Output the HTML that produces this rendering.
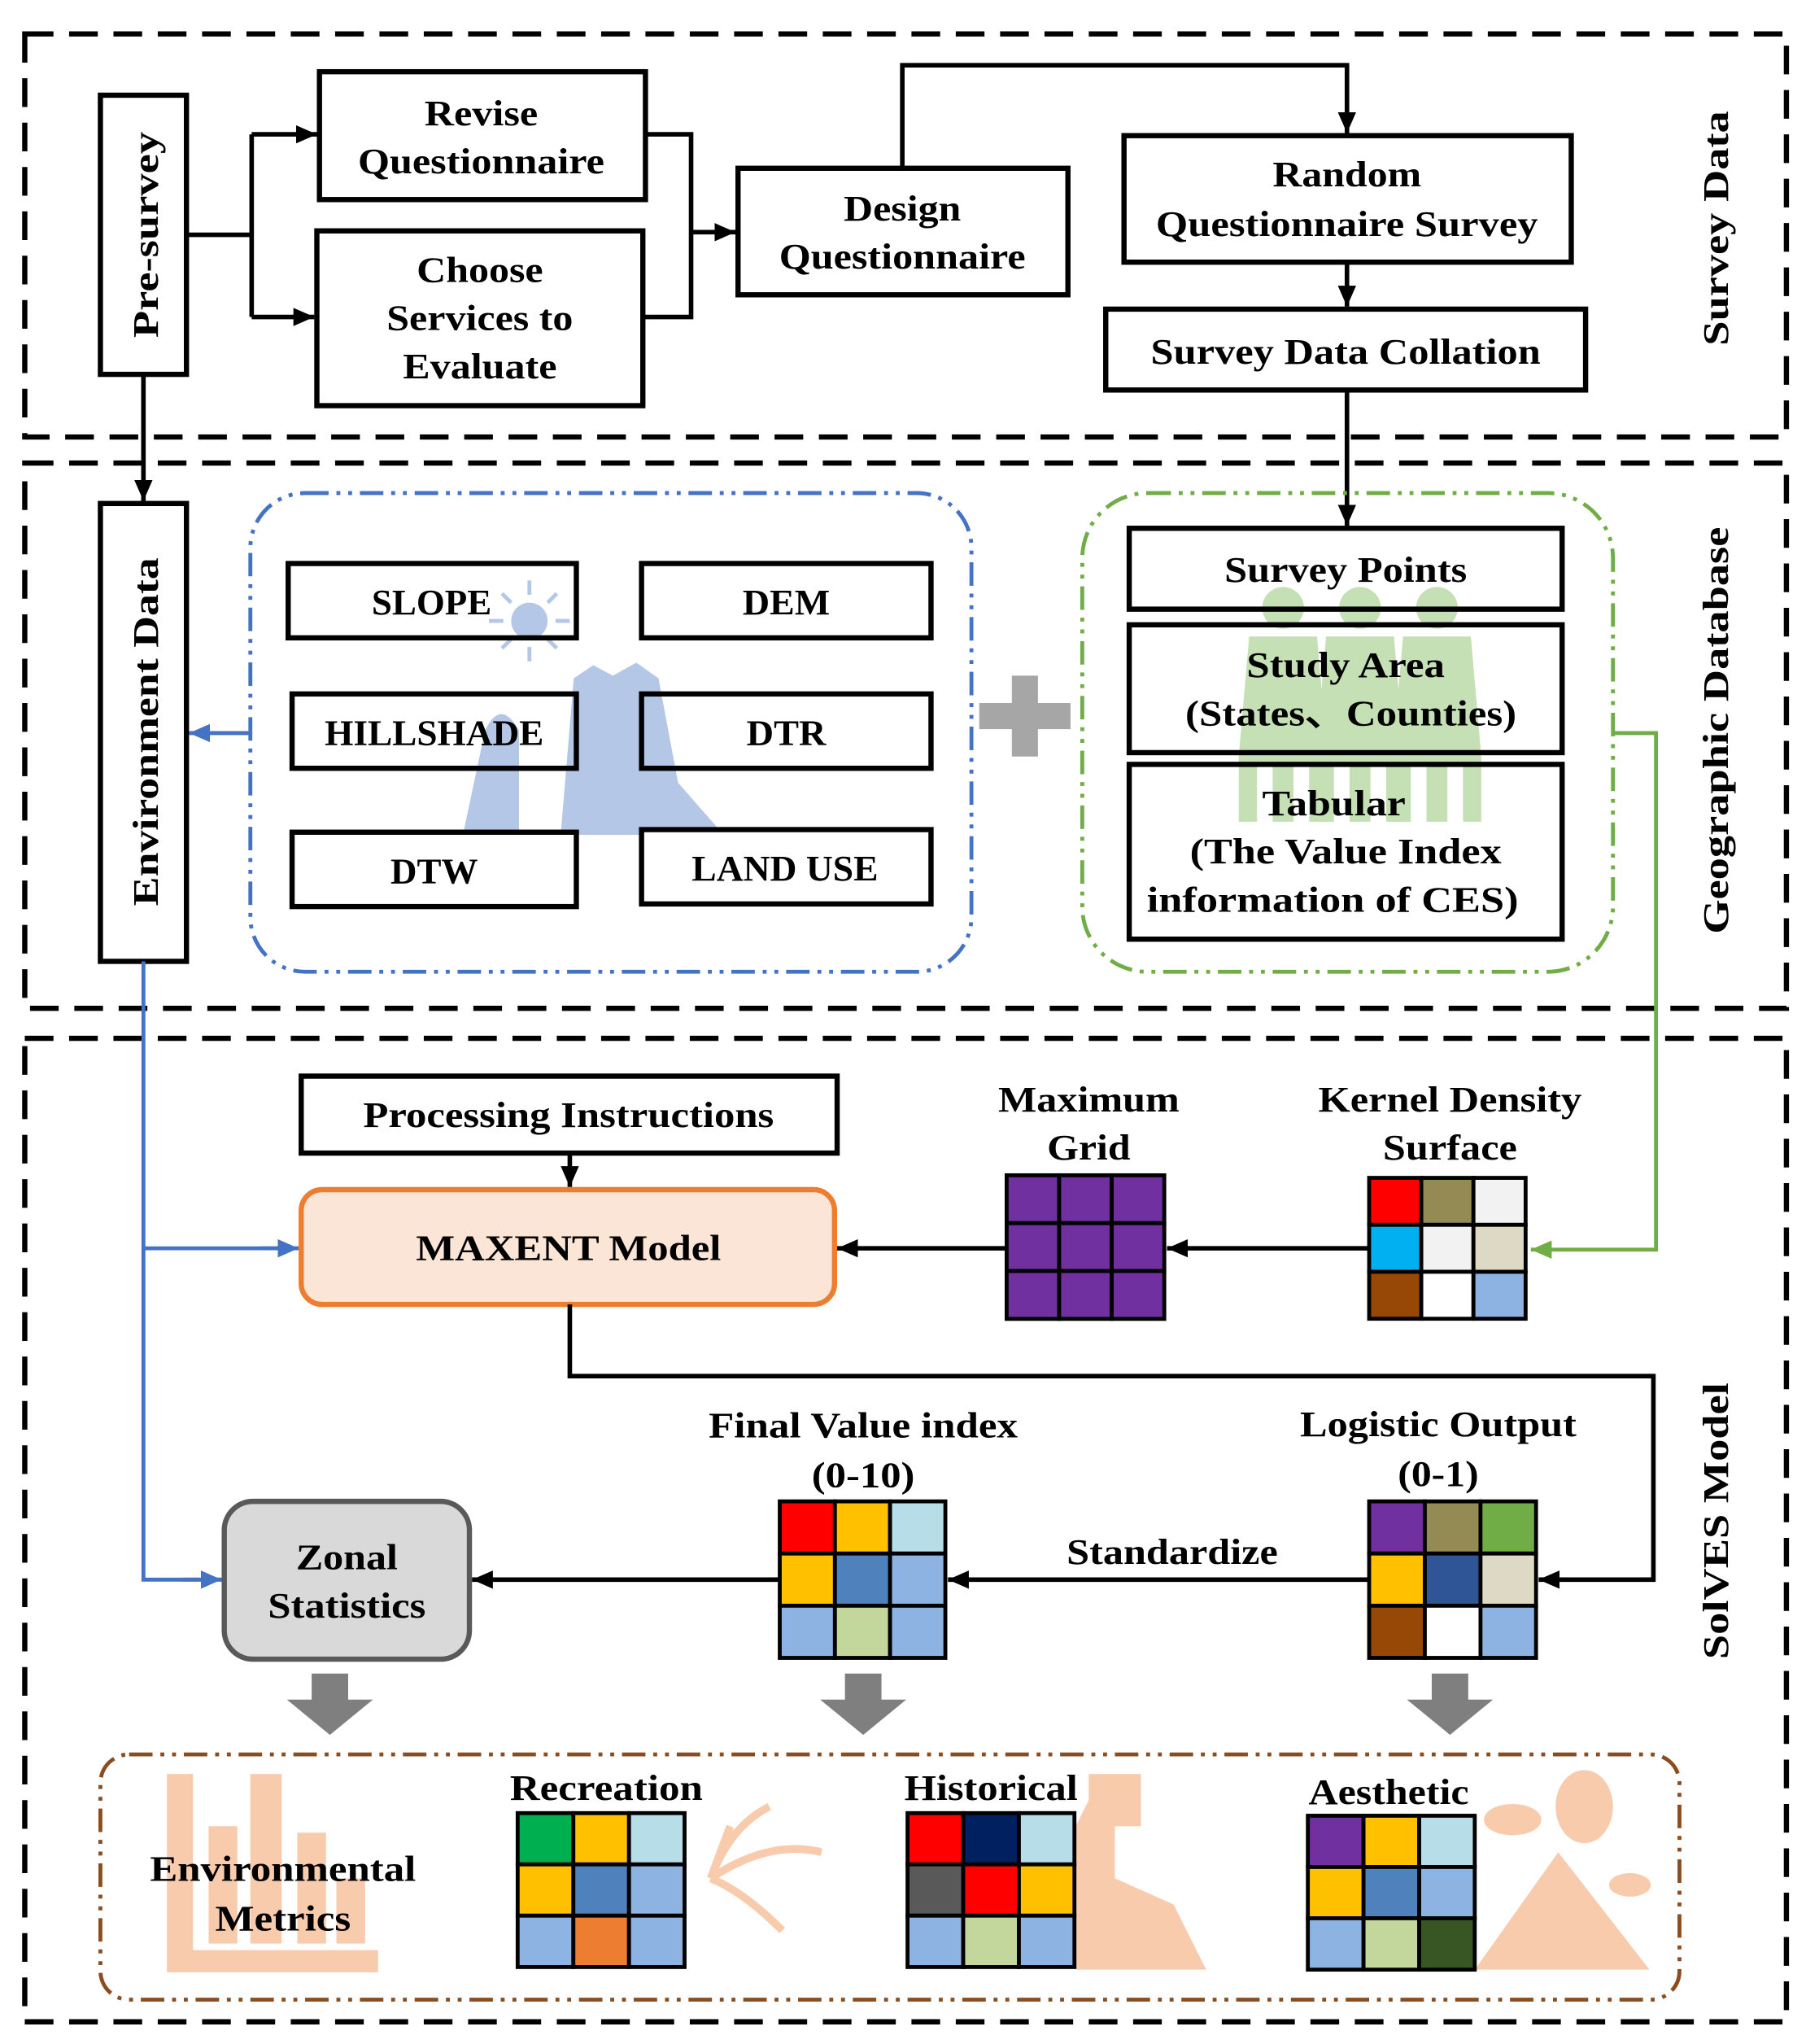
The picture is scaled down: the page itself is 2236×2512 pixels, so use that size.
<!DOCTYPE html>
<html><head><meta charset="utf-8"><style>html,body{margin:0;padding:0;background:#fff}svg{display:block}</style></head>
<body>
<svg xmlns="http://www.w3.org/2000/svg" width="2236" height="2512" viewBox="0 0 1395 1567" preserveAspectRatio="none">
<defs>
<marker id="a" markerWidth="16" markerHeight="14" refX="16" refY="7" orient="auto" markerUnits="userSpaceOnUse"><path d="M0,0L16,7L0,14z" fill="#000"/></marker>
<marker id="ab" markerWidth="16" markerHeight="14" refX="16" refY="7" orient="auto" markerUnits="userSpaceOnUse"><path d="M0,0L16,7L0,14z" fill="#4472c4"/></marker>
<marker id="ag" markerWidth="16" markerHeight="14" refX="16" refY="7" orient="auto" markerUnits="userSpaceOnUse"><path d="M0,0L16,7L0,14z" fill="#70ad47"/></marker>
</defs>
<style>
text{font-family:"Liberation Serif",serif;font-weight:bold;font-size:28px;text-anchor:middle;fill:#000}
.b{fill:#fff;stroke:#000;stroke-width:4}
.l{fill:none;stroke:#000;stroke-width:3.5}
.sec{fill:none;stroke:#000;stroke-width:4;stroke-dasharray:22 12}
</style>

<rect class="sec" x="19" y="26" width="1351" height="309"/>
<rect class="sec" x="19" y="355" width="1351" height="418"/>
<rect class="sec" x="19" y="796" width="1351" height="754"/>

<text transform="translate(1325,175) rotate(-90)" textLength="180" lengthAdjust="spacingAndGlyphs">Survey Data</text>
<text transform="translate(1325,560) rotate(-90)" textLength="312" lengthAdjust="spacingAndGlyphs">Geographic Database</text>
<text transform="translate(1325,1166) rotate(-90)" textLength="212" lengthAdjust="spacingAndGlyphs">SolVES Model</text>

<rect class="b" x="77" y="73" width="66" height="214"/>
<text transform="translate(121,180) rotate(-90)" textLength="158" lengthAdjust="spacingAndGlyphs">Pre-survey</text>
<rect class="b" x="245" y="55" width="250" height="98"/>
<text x="369" y="96" textLength="87" lengthAdjust="spacingAndGlyphs">Revise</text>
<text x="369" y="133" textLength="189" lengthAdjust="spacingAndGlyphs">Questionnaire</text>
<rect class="b" x="243" y="177" width="250" height="134"/>
<text x="368" y="216" textLength="97" lengthAdjust="spacingAndGlyphs">Choose</text>
<text x="368" y="253" textLength="143" lengthAdjust="spacingAndGlyphs">Services to</text>
<text x="368" y="290" textLength="118" lengthAdjust="spacingAndGlyphs">Evaluate</text>
<rect class="b" x="566" y="129" width="253" height="97"/>
<text x="692" y="169" textLength="90" lengthAdjust="spacingAndGlyphs">Design</text>
<text x="692" y="206" textLength="189" lengthAdjust="spacingAndGlyphs">Questionnaire</text>
<rect class="b" x="862" y="104" width="343" height="97"/>
<text x="1033" y="143" textLength="114" lengthAdjust="spacingAndGlyphs">Random</text>
<text x="1033" y="181" textLength="293" lengthAdjust="spacingAndGlyphs">Questionnaire Survey</text>
<rect class="b" x="848" y="237" width="368" height="62"/>
<text x="1032" y="279" textLength="299" lengthAdjust="spacingAndGlyphs">Survey Data Collation</text>

<path class="l" d="M143,180H193M193,103V243"/>
<path class="l" d="M193,103H243" marker-end="url(#a)"/>
<path class="l" d="M193,243H241" marker-end="url(#a)"/>
<path class="l" d="M495,103H530V243H493M530,178H564" marker-end="url(#a)"/>
<path class="l" d="M692,129V50H1033V102" marker-end="url(#a)"/>
<path class="l" d="M1033,201V235" marker-end="url(#a)"/>
<path class="l" d="M1033,299V403" marker-end="url(#a)"/>
<path class="l" d="M110,287V384" marker-end="url(#a)"/>

<rect class="b" x="77" y="386" width="66" height="351"/>
<text transform="translate(121,561) rotate(-90)" textLength="267" lengthAdjust="spacingAndGlyphs">Environment Data</text>

<g fill="#b4c7e7">
<circle cx="406" cy="476" r="14"/>
<path d="M355,640L372,560Q384,535 398,560L398,640z"/>
<path d="M430,640L440,520L455,510L470,518L488,508L505,520L520,600L555,640z"/>
</g>
<g stroke="#b4c7e7" stroke-width="3"><path d="M406,445V456M406,496V507M375,476H386M426,476H437M385,455L392,462M420,490L427,497M427,455L420,462M392,490L385,497"/></g>

<rect x="192" y="378" width="553" height="367" rx="42" fill="none" stroke="#4472c4" stroke-width="3" stroke-dasharray="18 6 3 6 3 6"/>
<rect class="b" x="221" y="432" width="221" height="57" style="fill:none"/>
<text x="331" y="471" textLength="92" lengthAdjust="spacingAndGlyphs">SLOPE</text>
<rect class="b" x="492" y="432" width="222" height="57"/>
<text x="603" y="471" textLength="67" lengthAdjust="spacingAndGlyphs">DEM</text>
<rect class="b" x="224" y="532" width="218" height="57" style="fill:none"/>
<text x="333" y="571" textLength="168" lengthAdjust="spacingAndGlyphs">HILLSHADE</text>
<rect class="b" x="492" y="532" width="222" height="57" style="fill:none"/>
<text x="603" y="571" textLength="61" lengthAdjust="spacingAndGlyphs">DTR</text>
<rect class="b" x="224" y="638" width="218" height="57"/>
<text x="333" y="677" textLength="67" lengthAdjust="spacingAndGlyphs">DTW</text>
<rect class="b" x="492" y="636" width="222" height="57"/>
<text x="602" y="675" textLength="143" lengthAdjust="spacingAndGlyphs">LAND USE</text>
<path d="M192,562H145" fill="none" stroke="#4472c4" stroke-width="3" marker-end="url(#ab)"/>

<path d="M786,518V580M751,549H821" stroke="#a6a6a6" stroke-width="20"/>

<g fill="#c5e0b4">
<circle cx="984" cy="466" r="16"/><circle cx="1043" cy="466" r="16"/><circle cx="1102" cy="466" r="16"/>
<path d="M958,488H1010L1018,580V630H1004V585H992V630H976V585H964V630H950V580z"/>
<path d="M1017,488H1069L1077,580V630H1063V585H1051V630H1035V585H1023V630H1009V580z"/>
<path d="M1076,488H1128L1136,580V630H1122V585H1110V630H1094V585H1082V630H1068V580z"/>
</g>
<rect x="830" y="378" width="407" height="367" rx="50" fill="none" stroke="#70ad47" stroke-width="3" stroke-dasharray="18 6 3 6 3 6"/>
<rect class="b" x="866" y="405" width="332" height="62" style="fill:none"/>
<text x="1032" y="446" textLength="186" lengthAdjust="spacingAndGlyphs">Survey Points</text>
<rect class="b" x="866" y="479" width="332" height="98" style="fill:none"/>
<text x="1032" y="519" textLength="152" lengthAdjust="spacingAndGlyphs">Study Area</text>
<text x="1036" y="556" textLength="254" lengthAdjust="spacingAndGlyphs">(States、Counties)</text>
<rect class="b" x="866" y="586" width="332" height="134" style="fill:none"/>
<text x="1023" y="625" textLength="110" lengthAdjust="spacingAndGlyphs">Tabular</text>
<text x="1032" y="662" textLength="239" lengthAdjust="spacingAndGlyphs">(The Value Index</text>
<text x="1022" y="699" textLength="285" lengthAdjust="spacingAndGlyphs">information of CES)</text>

<path d="M1237,562H1270V958H1174" fill="none" stroke="#70ad47" stroke-width="3" marker-end="url(#ag)"/>

<path d="M110,737V1211H170M110,957H229" fill="none" stroke="#4472c4" stroke-width="3"/>
<path d="M200,957H229" fill="none" stroke="#4472c4" stroke-width="3" marker-end="url(#ab)"/>
<path d="M140,1211H170" fill="none" stroke="#4472c4" stroke-width="3" marker-end="url(#ab)"/>

<rect class="b" x="231" y="825" width="411" height="59"/>
<text x="436" y="864" textLength="315" lengthAdjust="spacingAndGlyphs">Processing Instructions</text>
<path class="l" d="M437,884V910" marker-end="url(#a)"/>
<rect x="231" y="912" width="409" height="88" rx="16" fill="#fbe5d6" stroke="#ed7d31" stroke-width="4"/>
<text x="436" y="966" textLength="234" lengthAdjust="spacingAndGlyphs">MAXENT Model</text>

<text x="835" y="852" textLength="139" lengthAdjust="spacingAndGlyphs">Maximum</text>
<text x="835" y="889" textLength="64" lengthAdjust="spacingAndGlyphs">Grid</text>
<text x="1112" y="852" textLength="202" lengthAdjust="spacingAndGlyphs">Kernel Density</text>
<text x="1112" y="889" textLength="103" lengthAdjust="spacingAndGlyphs">Surface</text>

<g stroke="#000" stroke-width="3">
<g fill="#7030a0">
<rect x="772" y="901" width="40.3" height="36.7"/><rect x="812.3" y="901" width="40.3" height="36.7"/><rect x="852.6" y="901" width="40.3" height="36.7"/>
<rect x="772" y="937.7" width="40.3" height="36.7"/><rect x="812.3" y="937.7" width="40.3" height="36.7"/><rect x="852.6" y="937.7" width="40.3" height="36.7"/>
<rect x="772" y="974.4" width="40.3" height="36.7"/><rect x="812.3" y="974.4" width="40.3" height="36.7"/><rect x="852.6" y="974.4" width="40.3" height="36.7"/>
</g>
<rect x="1050" y="903" width="40" height="36" fill="#ff0000"/><rect x="1090" y="903" width="40" height="36" fill="#948a54"/><rect x="1130" y="903" width="40" height="36" fill="#f2f2f2"/>
<rect x="1050" y="939" width="40" height="36" fill="#00b0f0"/><rect x="1090" y="939" width="40" height="36" fill="#f2f2f2"/><rect x="1130" y="939" width="40" height="36" fill="#ddd9c4"/>
<rect x="1050" y="975" width="40" height="36" fill="#974706"/><rect x="1090" y="975" width="40" height="36" fill="#fff"/><rect x="1130" y="975" width="40" height="36" fill="#8db3e2"/>
<rect x="1050" y="1151" width="42.7" height="40" fill="#7030a0"/><rect x="1092.7" y="1151" width="42.7" height="40" fill="#948a54"/><rect x="1135.4" y="1151" width="42.6" height="40" fill="#70ad47"/>
<rect x="1050" y="1191" width="42.7" height="40" fill="#ffc000"/><rect x="1092.7" y="1191" width="42.7" height="40" fill="#2f5597"/><rect x="1135.4" y="1191" width="42.6" height="40" fill="#ddd9c4"/>
<rect x="1050" y="1231" width="42.7" height="40" fill="#974706"/><rect x="1092.7" y="1231" width="42.7" height="40" fill="#fff"/><rect x="1135.4" y="1231" width="42.6" height="40" fill="#8db3e2"/>
<rect x="598" y="1151" width="42.3" height="40" fill="#ff0000"/><rect x="640.3" y="1151" width="42.3" height="40" fill="#ffc000"/><rect x="682.6" y="1151" width="42.4" height="40" fill="#b7dee8"/>
<rect x="598" y="1191" width="42.3" height="40" fill="#ffc000"/><rect x="640.3" y="1191" width="42.3" height="40" fill="#4f81bd"/><rect x="682.6" y="1191" width="42.4" height="40" fill="#8db3e2"/>
<rect x="598" y="1231" width="42.3" height="40" fill="#8db3e2"/><rect x="640.3" y="1231" width="42.3" height="40" fill="#c3d69b"/><rect x="682.6" y="1231" width="42.4" height="40" fill="#8db3e2"/>
</g>

<path class="l" d="M1050,957H895" marker-end="url(#a)"/>
<path class="l" d="M772,957H642" marker-end="url(#a)"/>
<path class="l" d="M437,1000V1055H1268V1211H1180" marker-end="url(#a)"/>
<path class="l" d="M1050,1211H727" marker-end="url(#a)"/>
<path class="l" d="M598,1211H362" marker-end="url(#a)"/>

<text x="662" y="1102" textLength="237" lengthAdjust="spacingAndGlyphs">Final Value index</text>
<text x="662" y="1140" textLength="79" lengthAdjust="spacingAndGlyphs">(0-10)</text>
<text x="1103" y="1101" textLength="212" lengthAdjust="spacingAndGlyphs">Logistic Output</text>
<text x="1103" y="1139" textLength="62" lengthAdjust="spacingAndGlyphs">(0-1)</text>
<text x="899" y="1199" textLength="162" lengthAdjust="spacingAndGlyphs">Standardize</text>

<rect x="172" y="1151" width="188" height="121" rx="22" fill="#d9d9d9" stroke="#595959" stroke-width="4"/>
<text x="266" y="1203" textLength="78" lengthAdjust="spacingAndGlyphs">Zonal</text>
<text x="266" y="1240" textLength="121" lengthAdjust="spacingAndGlyphs">Statistics</text>

<g fill="#7f7f7f">
<path d="M239,1283H267V1303H286L253,1330L220,1303H239z"/>
<path d="M648,1283H676V1303H695L662,1330L629,1303H648z"/>
<path d="M1098,1283H1126V1303H1145L1112,1330L1079,1303H1098z"/>
</g>

<g fill="#f8cbad">
<path d="M128,1360H148V1495H290V1512H128z"/>
<rect x="160" y="1400" width="22" height="90"/><rect x="192" y="1360" width="24" height="130"/><rect x="228" y="1405" width="22" height="85"/><rect x="258" y="1440" width="22" height="50"/>
<path d="M825,1510V1400L835,1380V1360H875V1400H855V1440L900,1460L925,1510z"/>
<path d="M1131,1510L1195,1420L1265,1510z"/>
<ellipse cx="1215" cy="1385" rx="22" ry="28"/>
<ellipse cx="1160" cy="1395" rx="22" ry="12"/><ellipse cx="1250" cy="1445" rx="16" ry="9"/>
</g>
<g stroke="#f8cbad" stroke-width="6" fill="none">
<path d="M545,1440Q560,1400 590,1385M545,1440Q590,1410 630,1420M545,1440Q570,1450 600,1480M545,1440L560,1400"/>
</g>

<rect x="77" y="1345" width="1211" height="188" rx="22" fill="none" stroke="#8b4d1f" stroke-width="3" stroke-dasharray="18 6 3 6 3 6"/>
<text x="217" y="1442" textLength="204" lengthAdjust="spacingAndGlyphs">Environmental</text>
<text x="217" y="1480" textLength="104" lengthAdjust="spacingAndGlyphs">Metrics</text>
<text x="465" y="1380" textLength="148" lengthAdjust="spacingAndGlyphs">Recreation</text>
<text x="760" y="1380" textLength="133" lengthAdjust="spacingAndGlyphs">Historical</text>
<text x="1065" y="1383" textLength="123" lengthAdjust="spacingAndGlyphs">Aesthetic</text>

<g stroke="#000" stroke-width="3">
<rect x="397" y="1390" width="42.7" height="39.3" fill="#00b050"/><rect x="439.7" y="1390" width="42.7" height="39.3" fill="#ffc000"/><rect x="482.4" y="1390" width="42.6" height="39.3" fill="#b7dee8"/>
<rect x="397" y="1429.3" width="42.7" height="39.3" fill="#ffc000"/><rect x="439.7" y="1429.3" width="42.7" height="39.3" fill="#4f81bd"/><rect x="482.4" y="1429.3" width="42.6" height="39.3" fill="#8db3e2"/>
<rect x="397" y="1468.6" width="42.7" height="39.4" fill="#8db3e2"/><rect x="439.7" y="1468.6" width="42.7" height="39.4" fill="#ed7d31"/><rect x="482.4" y="1468.6" width="42.6" height="39.4" fill="#8db3e2"/>
<rect x="696" y="1390" width="42.7" height="39.3" fill="#ff0000"/><rect x="738.7" y="1390" width="42.7" height="39.3" fill="#002060"/><rect x="781.4" y="1390" width="42.6" height="39.3" fill="#b7dee8"/>
<rect x="696" y="1429.3" width="42.7" height="39.3" fill="#595959"/><rect x="738.7" y="1429.3" width="42.7" height="39.3" fill="#ff0000"/><rect x="781.4" y="1429.3" width="42.6" height="39.3" fill="#ffc000"/>
<rect x="696" y="1468.6" width="42.7" height="39.4" fill="#8db3e2"/><rect x="738.7" y="1468.6" width="42.7" height="39.4" fill="#c3d69b"/><rect x="781.4" y="1468.6" width="42.6" height="39.4" fill="#8db3e2"/>
<rect x="1003" y="1392" width="42.7" height="39.3" fill="#7030a0"/><rect x="1045.7" y="1392" width="42.7" height="39.3" fill="#ffc000"/><rect x="1088.4" y="1392" width="42.6" height="39.3" fill="#b7dee8"/>
<rect x="1003" y="1431.3" width="42.7" height="39.3" fill="#ffc000"/><rect x="1045.7" y="1431.3" width="42.7" height="39.3" fill="#4f81bd"/><rect x="1088.4" y="1431.3" width="42.6" height="39.3" fill="#8db3e2"/>
<rect x="1003" y="1470.6" width="42.7" height="39.4" fill="#8db3e2"/><rect x="1045.7" y="1470.6" width="42.7" height="39.4" fill="#c3d69b"/><rect x="1088.4" y="1470.6" width="42.6" height="39.4" fill="#375623"/>
</g>
</svg>
</body></html>
